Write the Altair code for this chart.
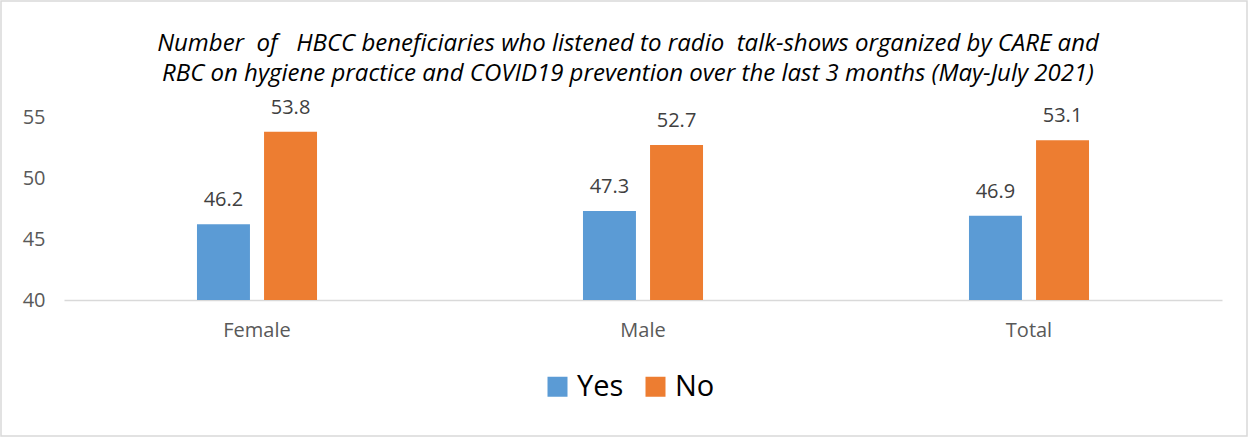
import altair as alt
import pandas as pd

# Survey results by group
groups = ["Female", "Male", "Total"]
answers = ["Yes", "No"]
yes_values = [46.2, 47.3, 46.9]
no_values = [53.8, 52.7, 53.1]
y_ticks = [40, 45, 50, 55]

NBSP = "\u00a0"
title_lines = [
    f"Number {NBSP}of {NBSP}{NBSP}HBCC beneficiaries who listened to radio {NBSP}talk-shows organized by CARE and",
    "RBC on hygiene practice and COVID19 prevention over the last 3 months (May-July 2021)",
]

rows = []
for g, y_val, n_val in zip(groups, yes_values, no_values):
    rows.append({"group": g, "answer": "Yes", "value": y_val})
    rows.append({"group": g, "answer": "No", "value": n_val})
df = pd.DataFrame(rows)

FONT = "Open Sans"
W, H = 1158, 183
PAD_L, PAD_T = 64, 117
PAD_R = 1249 - PAD_L - W
PAD_B = 438 - PAD_T - H

x_enc = alt.X(
    "group:N",
    sort=groups,
    title=None,
    scale=alt.Scale(paddingInner=0.689, paddingOuter=0.3445),
    axis=alt.Axis(
        labelAngle=0, labelFontSize=20, labelColor="#595959", labelFont=FONT,
        labelPadding=20, ticks=False, domainColor="#d9d9d9", domainWidth=1.5,
    ),
)
xoff = alt.XOffset("answer:N", sort=answers, scale=alt.Scale(paddingInner=0.21, paddingOuter=0))
y_enc = alt.Y(
    "value:Q",
    title=None,
    scale=alt.Scale(domain=[40, 55], nice=False, zero=False),
    axis=alt.Axis(
        values=y_ticks, grid=False, domain=False, ticks=False,
        labelFontSize=20, labelColor="#595959", labelFont=FONT, labelPadding=19,
    ),
)
color_enc = alt.Color(
    "answer:N",
    sort=answers,
    scale=alt.Scale(domain=answers, range=["#5B9BD5", "#ED7D31"]),
    legend=alt.Legend(
        title=None, orient="none", direction="horizontal",
        legendX=479, legendY=255,
        symbolType="square", symbolSize=400, symbolStrokeWidth=0,
        labelFontSize=29, labelFont=FONT, labelColor="#000000",
        columnPadding=17, labelOffset=5,
    ),
)

base = alt.Chart(df)

bars = base.mark_bar(clip=True).encode(x=x_enc, xOffset=xoff, y=y_enc, color=color_enc)

labels = base.mark_text(
    baseline="alphabetic", dy=-18, fontSize=20, font=FONT, color="#404040"
).encode(
    x=alt.X("group:N", sort=groups),
    xOffset=xoff,
    y="value:Q",
    text=alt.Text("value:Q", format=".1f"),
)

# outer frame around the whole figure
frame = alt.Chart(pd.DataFrame({"f": [0]})).mark_rect(
    fill=None, stroke="#d9d9d9", strokeWidth=1.5
).encode(
    x=alt.value(-PAD_L + 1), x2=alt.value(W + PAD_R - 2),
    y=alt.value(-PAD_T + 1), y2=alt.value(H + PAD_B - 2),
)

chart = alt.layer(bars, labels, frame).properties(
    width=W,
    height=H,
    background="white",
    padding={"left": PAD_L, "top": PAD_T, "right": PAD_R, "bottom": PAD_B},
    autosize=alt.AutoSizeParams(type="none"),
    title=alt.TitleParams(
        text=title_lines,
        font=FONT, fontSize=24, fontStyle="italic", fontWeight="normal",
        color="#000000", lineHeight=30, anchor="middle", dx=-15, offset=-86,
    ),
).configure_view(stroke=None)

chart.save("out.html", embed_options={"renderer": "svg", "actions": False})
